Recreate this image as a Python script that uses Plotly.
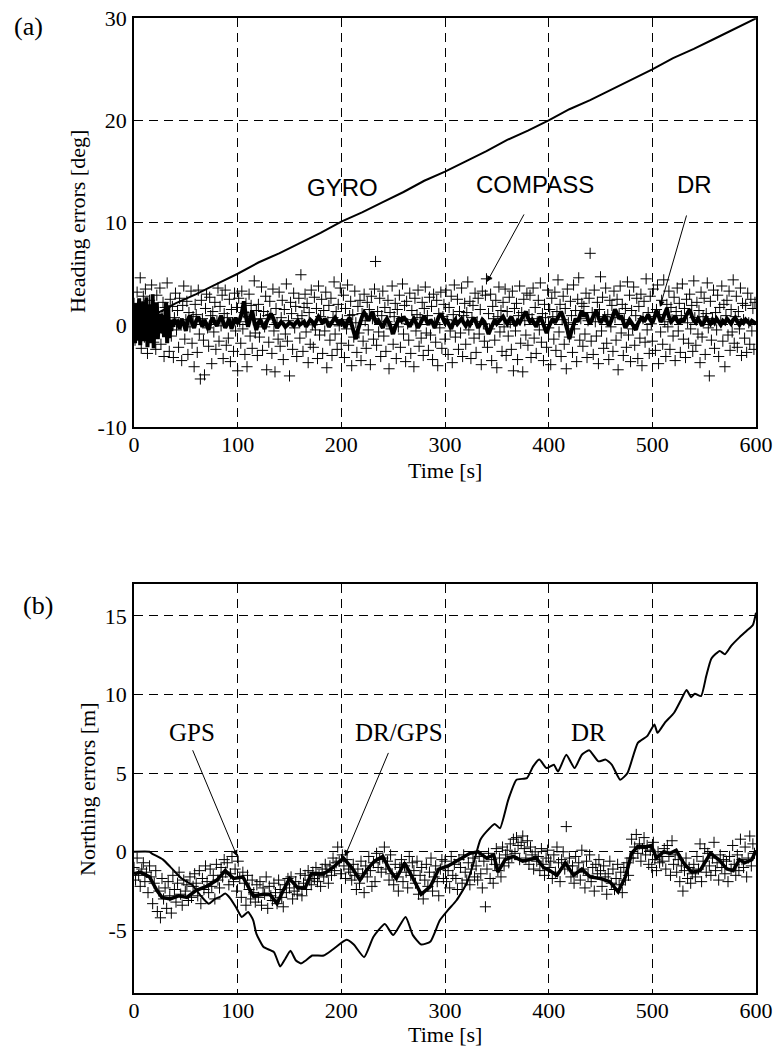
import plotly.graph_objects as go

# ---------------- data: (a) heading errors ----------------
compass_t = list(range(0, 600))
compass_heading = [
    2.1,-1.5,0.8,3.2,-0.6,1.9,4.6,-2.3,0.4,2.8,-1.2,3.5,1.1,-2.8,0.2,2.4,-0.9,3.9,1.5,-1.7,
    0.6,-2.4,2.9,1.3,-0.4,3.6,-1.9,0.9,2.2,-3.1,1.7,-0.8,4.1,0.3,-2.6,2.5,-1.1,1.8,-3.2,0.7,
    3.1,-0.5,1.4,-2.2,2.6,0.1,-3.5,1.9,3.8,-1.4,0.5,2.3,-2.9,1.2,-0.2,3.3,-1.8,0.8,-4.1,2.0,
    1.0,-2.7,3.4,-0.9,-5.3,2.4,0.6,-1.5,-4.9,1.6,3.0,-0.3,-2.1,2.7,0.9,-3.8,1.3,-0.7,2.2,-2.4,
    0.4,3.6,-1.6,1.8,-0.1,2.9,-3.3,1.1,3.4,-2.0,0.7,-1.3,2.5,-3.6,1.5,0.2,-2.6,3.1,-0.6,1.7,
    -4.5,2.6,0.3,-1.8,3.3,-0.4,1.2,-2.9,2.1,-4.1,0.8,3.0,-1.1,1.9,-2.3,0.5,4.3,-0.8,1.4,-3.0,
    2.0,-1.2,0.6,3.7,-2.5,1.3,-0.2,2.8,-4.4,0.9,-1.7,2.3,1.0,-2.8,3.5,-0.6,-4.6,1.6,0.2,-1.4,
    3.2,-2.1,0.7,2.4,-3.4,1.5,-0.9,4.0,-1.6,0.4,-5.0,2.2,1.1,-2.4,3.1,-0.3,1.8,-3.1,0.6,2.6,
    -1.3,4.9,0.9,-2.6,1.7,3.0,-0.7,2.1,-3.7,1.2,-1.9,3.4,0.0,-2.2,2.7,-0.5,1.6,-3.3,3.8,-1.0,
    0.8,2.5,-2.8,1.4,-0.6,3.2,-4.2,0.3,1.9,-1.5,2.6,-3.0,0.7,4.2,-0.9,1.3,-2.4,2.0,-0.1,3.6,
    -1.8,0.5,2.9,-3.2,1.6,-0.4,3.9,-2.0,0.9,2.3,-4.0,1.0,-1.2,3.3,0.2,-2.7,1.8,-0.8,2.4,-3.5,
    1.1,-1.6,3.0,0.4,-2.3,2.2,-0.5,1.5,-3.9,2.8,0.6,-1.4,3.5,6.2,-2.0,1.3,-0.7,2.6,-3.1,0.9,
    3.3,-1.1,1.7,-2.6,0.3,2.4,-4.3,1.2,-0.4,3.8,-1.9,0.8,2.1,-3.3,1.5,-0.2,2.9,-2.2,0.6,4.0,
    -0.9,1.9,-3.6,2.3,0.1,-1.5,3.1,-2.8,1.4,0.5,-4.1,2.6,-0.6,1.0,3.4,-2.1,0.7,-1.3,2.2,-3.0,
    1.6,3.7,-0.8,0.9,-2.5,2.7,-1.0,1.8,-3.4,3.0,0.2,-1.7,2.4,-4.0,1.1,-0.3,3.2,-2.3,0.8,2.0,
    -1.4,3.4,0.5,-2.9,1.7,-0.6,2.8,-3.7,1.0,3.9,-1.2,0.4,2.5,-2.4,1.3,-0.8,3.6,-3.1,0.9,2.1,
    -1.9,1.2,4.2,-0.5,2.3,-3.3,0.7,1.9,-1.3,3.1,-2.7,0.3,2.6,-0.9,1.5,-3.9,3.3,0.1,-1.6,2.9,
    4.5,-2.2,1.1,-0.4,3.0,-3.5,1.8,0.6,-1.5,2.4,-4.2,0.8,3.7,-0.7,1.4,-2.6,2.2,-0.2,3.5,-3.0,
    1.3,-1.1,2.7,0.2,-2.4,3.3,-4.5,1.6,-0.6,2.1,-3.4,0.9,3.8,-1.8,1.2,-4.6,2.5,0.4,-1.0,3.1,
    -2.0,1.0,2.9,-3.2,0.6,3.6,-1.3,1.7,-2.8,0.3,2.4,-0.5,4.1,-1.7,1.1,-3.5,2.0,0.7,-2.2,3.4,
    -0.3,1.5,-3.9,2.6,0.8,-1.4,3.2,-2.5,1.3,4.4,-0.7,2.0,-3.1,0.5,2.8,-1.9,1.6,-4.3,3.5,0.2,
    -1.2,2.3,0.9,-2.7,3.9,-0.4,1.4,-3.6,2.5,4.6,-1.5,0.6,2.1,-2.1,1.8,-0.9,3.1,-3.2,0.4,2.6,
    7.0,-1.6,1.2,-2.9,3.4,0.3,-1.1,2.2,-3.8,1.5,4.7,-0.6,2.7,-2.3,0.8,3.6,-1.8,1.0,-3.4,2.4,
    -0.2,1.9,-2.6,3.3,0.7,-1.5,2.5,-4.4,1.1,3.8,-0.8,2.0,-3.0,0.5,1.6,-2.2,4.2,-1.0,2.9,-3.6,
    1.4,-0.4,3.7,-2.0,0.9,2.6,-3.3,1.8,-1.3,3.0,-4.0,0.6,2.3,-1.7,4.5,-0.5,1.2,-2.8,2.8,0.1,
    -1.6,3.5,0.8,-2.5,1.5,3.9,-3.8,1.0,-0.7,2.4,-1.9,4.4,0.3,-3.1,2.0,-0.2,3.3,-2.4,1.7,0.5,
    -1.1,2.7,-3.5,1.3,3.6,-0.6,2.1,-2.7,0.9,4.0,-1.4,1.6,-3.2,2.5,0.2,-1.8,3.0,-0.4,1.9,-2.6,
    4.3,0.7,-2.0,2.2,-0.9,1.4,-3.7,3.2,-1.2,0.8,2.6,-2.9,1.1,4.1,-0.3,-5.0,2.3,-1.5,0.6,3.4,
    -2.3,1.2,-0.5,2.9,-3.1,1.7,0.3,3.8,-1.6,2.0,-4.1,0.9,2.4,-1.0,3.3,-2.5,1.5,-0.7,4.4,-1.8,
    0.8,2.8,-2.2,1.3,-0.4,3.6,-3.0,2.1,0.5,-1.3,1.9,-2.7,3.1,0.2,-1.9,2.5,-0.6,1.6,-2.4,2.2,
]

gyro_t = list(range(0, 601, 20))
gyro_heading = [0.1,1.0,2.1,3.0,4.0,5.0,6.1,7.0,8.0,9.0,10.1,11.0,12.0,13.0,14.1,15.0,
                16.0,17.0,18.1,19.0,20.0,21.1,22.0,23.0,24.0,25.0,26.1,27.0,28.0,29.0,30.0]

dr_heading_t = list(range(0, 41)) + list(range(42, 601, 2))
dr_heading = [
    1.2,-1.8,2.1,-1.5,0.4,2.6,-2.0,1.0,-1.2,2.3,-1.6,0.8,2.7,-2.2,1.3,-0.9,2.0,-1.8,3.0,-2.3,
    1.6,-1.0,2.2,-1.4,0.6,-0.8,1.1,-0.5,0.9,-1.2,0.7,2.2,-1.8,1.9,-1.3,0.5,-0.6,0.4,-0.2,0.6,0.1,
    0.3,-0.4,0.6,0.1,-0.6,0.5,0.9,0.2,-0.3,0.4,0.8,0.3,-0.2,0.5,0.0,-0.5,0.3,0.7,0.2,-0.1,
    0.4,0.9,0.3,-0.3,0.1,0.6,-0.4,0.2,0.7,0.1,0.5,1.2,2.3,0.8,-0.2,0.6,1.4,0.3,-0.5,0.2,
    0.5,0.0,-0.4,0.3,0.8,1.1,0.7,0.2,-0.3,0.0,0.3,0.1,-0.2,0.0,0.2,0.1,-0.1,0.2,0.4,0.0,
    0.1,0.3,-0.2,0.2,0.5,0.3,0.0,0.4,0.8,0.5,0.1,0.6,0.3,-0.2,0.2,0.4,0.7,0.3,0.0,0.5,
    0.2,-0.3,0.4,0.7,0.1,-0.6,-1.4,-0.5,0.3,0.8,1.2,0.9,0.4,1.0,1.3,0.6,0.1,0.4,0.0,-0.3,
    0.3,0.6,0.2,-0.4,-0.9,-0.2,0.4,0.7,0.3,0.8,0.5,0.1,-0.2,0.3,0.6,0.2,-0.3,0.1,0.5,0.9,
    0.4,0.0,0.5,0.2,-0.3,0.3,0.8,1.1,0.6,0.2,0.4,0.0,-0.4,0.2,0.5,0.1,0.3,0.6,0.2,-0.1,
    0.3,0.0,0.4,0.7,0.2,-0.3,0.1,0.5,0.3,-0.2,-0.9,-0.4,0.2,0.5,0.1,0.3,0.6,0.8,0.4,0.1,
    0.5,0.8,0.3,-0.1,0.4,0.2,0.6,1.0,1.3,0.7,0.3,0.5,0.1,-0.2,0.4,0.8,0.3,-0.4,-0.8,-0.2,
    0.3,0.6,0.2,0.5,0.9,1.3,0.8,0.2,-0.5,-1.4,-0.6,0.2,0.6,0.3,0.9,1.4,0.8,1.2,0.5,0.1,
    0.6,1.0,1.4,0.7,0.2,0.5,0.9,0.4,-0.1,0.3,0.8,1.5,1.1,0.6,0.9,0.2,-0.3,0.1,0.5,0.2,
    -0.2,-0.5,0.1,0.4,0.8,0.3,0.6,1.0,0.5,0.2,0.7,1.4,0.9,0.3,0.6,1.1,1.6,0.8,0.3,0.5,
    0.9,0.4,0.1,0.6,0.3,0.8,1.2,1.5,0.9,0.4,0.2,0.6,0.3,-0.1,0.3,0.7,0.4,0.1,0.5,0.2,
    0.6,0.3,0.0,0.4,0.2,0.6,0.3,0.1,0.5,0.7,0.3,0.0,0.4,0.2,0.5,0.3,0.1,0.4,0.2,0.1,
]

# ---------------- data: (b) northing errors ----------------
gps_t = [i * 1.5 for i in range(400)]
gps_northing = [
    -1.0,-1.8,-0.4,-1.5,-2.2,-1.1,-0.7,-1.9,-1.3,-2.6,-0.9,-1.6,-3.3,-2.0,-1.2,-3.8,-2.5,-4.2,-1.7,-3.0,
    -2.3,-3.6,-1.9,-2.8,-3.9,-1.5,-2.4,-3.2,-2.0,-1.3,-2.7,-3.4,-1.8,-2.5,-2.1,-3.1,-1.6,-2.9,-2.2,-1.4,
    -2.0,-2.8,-1.2,-3.3,-1.7,-2.4,-0.9,-1.9,-2.6,-1.1,-2.2,-1.5,-3.0,-0.8,-1.8,-2.3,-1.0,-1.6,-0.5,-1.3,
    -0.7,-2.1,-1.4,-0.3,-1.9,-1.1,-2.5,-0.6,-1.7,-2.9,-1.3,-2.0,-3.4,-1.5,-2.4,-3.0,-1.8,-2.6,-3.2,-2.1,
    -2.9,-1.9,-3.4,-2.3,-2.7,-1.6,-3.6,-2.2,-2.8,-3.1,-2.0,-2.6,-3.3,-1.8,-2.4,-2.9,-3.5,-2.1,-2.6,-1.7,
    -2.3,-1.6,-3.0,-2.5,-1.9,-2.7,-2.2,-1.4,-2.8,-2.0,-1.5,-2.4,-1.2,-1.8,-2.1,-1.3,-1.7,-1.0,-1.9,-1.5,
    -2.2,-1.1,-1.6,-0.8,-1.3,-2.0,-0.9,-1.5,-0.4,-1.2,-0.7,0.3,-0.6,-1.4,-0.2,-0.9,-1.7,-0.5,-1.1,-1.3,
    -1.8,-0.8,-1.5,-2.4,-1.1,-2.0,-0.6,-1.4,-2.6,-0.9,-1.6,-0.3,-1.2,-2.2,-0.7,-1.9,-0.1,-1.0,-0.5,-1.3,
    -0.4,0.3,-1.1,-0.6,-1.8,-0.2,-1.4,-2.1,-0.8,-1.6,-2.5,-1.0,-0.5,-1.9,-0.9,-1.3,-2.3,-0.3,-1.5,-0.7,
    -1.2,-2.0,-0.6,-2.7,-1.5,-1.0,-3.0,-1.8,-0.8,-2.2,-1.3,-0.4,-2.5,-1.6,-0.9,-1.9,-2.8,-1.1,-0.5,-1.7,
    -0.6,-1.9,-1.2,-2.3,-0.3,-1.5,-0.8,-1.7,-2.4,-0.5,-1.0,-2.0,-0.2,-1.3,-1.8,-0.7,-2.1,-1.1,-0.4,-1.6,
    -0.9,-1.8,-0.3,-1.4,-2.3,-0.6,-3.5,-1.1,-0.1,-1.7,-0.5,-2.0,-0.8,0.2,-1.2,-0.4,-1.6,0.3,-0.9,-0.2,
    0.1,-0.7,0.5,-0.3,0.8,-0.1,0.9,0.4,-0.5,0.6,1.0,0.2,-0.4,0.7,-0.8,0.3,-0.2,-1.1,0.0,-0.6,
    -0.3,-1.2,0.2,-0.8,-1.5,-0.4,0.1,-1.0,-0.6,-1.7,-0.2,-1.3,0.3,-0.7,-1.9,-0.5,0.0,-1.1,1.6,-0.9,
    -0.4,-1.6,-0.9,-2.0,-0.3,-1.3,-0.7,-1.8,0.1,-1.1,-2.3,-0.6,-1.5,-0.2,-1.9,-1.0,-2.5,-0.8,-1.4,-0.5,
    -1.2,-2.2,-0.9,-1.6,-2.7,-1.4,-0.6,-2.0,-1.1,-2.4,-1.7,-0.8,-2.1,-1.3,-2.6,-1.0,-1.8,-0.7,-1.5,-0.4,
    0.8,-0.4,0.3,1.1,-0.1,0.5,-0.6,0.2,0.9,-0.2,0.4,-0.8,0.1,-1.0,0.6,-0.5,-1.2,0.0,-0.7,-0.3,
    -0.6,0.2,-1.1,0.4,-0.3,-1.5,0.7,-0.8,-0.2,-1.3,-0.5,-1.9,-0.9,-2.5,-1.2,-0.4,-1.7,-1.0,-2.0,-1.4,
    -0.8,-1.6,-0.3,-1.1,0.5,-1.9,-0.6,0.2,-1.3,-0.1,-0.9,-1.5,-0.4,0.6,-1.2,-0.7,-1.8,-0.2,-1.0,-0.5,
    -1.4,-0.6,-1.9,-0.3,-1.1,0.4,-0.8,-1.5,-0.2,-1.2,0.8,-0.5,-1.0,0.3,-1.6,-0.4,1.0,-0.9,0.5,-0.1,
]

drgps_t = [0,6,15,22,27,35,43,51,60,70,80,88,96,105,115,125,131,138,144,150,158,165,171,183,192,
           202,210,218,224,232,240,247,253,261,270,277,286,294,303,314,324,332,340,347,351,358,
           366,375,388,395,401,408,416,424,432,440,450,459,467,474,480,486,493,499,504,511,517,
           523,530,538,546,556,564,572,578,584,589,596,600]
drgps_northing = [-1.4,-1.3,-1.6,-2.45,-2.9,-3.0,-2.8,-2.9,-2.45,-2.2,-1.8,-1.2,-1.7,-1.6,-2.8,
                  -2.7,-2.7,-3.3,-2.45,-1.7,-2.3,-2.3,-1.4,-1.4,-1.0,-0.4,-1.0,-1.8,-1.2,-0.6,
                  -0.3,-1.2,-1.7,-0.7,-1.8,-2.7,-2.2,-1.1,-0.9,-0.5,-0.1,0.0,-0.4,-0.2,-1.3,-0.5,
                  -0.3,-0.6,-0.4,-1.0,-1.2,-1.5,-0.7,-1.5,-1.1,-1.6,-1.7,-1.9,-2.55,-1.6,-0.1,
                  0.35,0.3,0.4,-0.4,0.0,-0.1,0.1,-0.7,-1.3,-1.2,-0.1,-0.5,-1.1,-1.2,-0.5,-0.7,-0.5,0.1]

dr_t = [0,15,17,28,35,41,46,51,56,64,72,78.5,83,88,93,99,104,110,115,118,125,135,141,146,151,
        156,161,166,172,183,192,205,212,222,231,242,250,262,269,277,286,295,303,311,321,327.5,
        334,340,348,353,361,369,379,385,391,398,405,409,417,425,432,439,448,455,461,469,476,
        486,495,502,505,512,521,528,533,537.5,541,547,552,557,565,570,576,584,591,597,600]
dr_northing = [0.0,0.0,-0.1,-0.5,-0.96,-1.38,-1.7,-1.9,-2.1,-2.77,-3.3,-2.98,-2.87,-2.66,-2.98,
               -3.6,-4.15,-3.83,-4.36,-5.2,-6.06,-6.38,-7.3,-6.8,-6.3,-6.9,-7.1,-6.9,-6.6,-6.6,
               -6.2,-5.6,-5.9,-6.7,-5.4,-4.6,-5.3,-4.15,-5.3,-5.9,-5.7,-4.36,-3.7,-3.1,-2.0,-0.74,
               0.75,1.28,1.77,1.49,3.3,4.58,4.68,5.43,5.86,5.32,5.53,5.1,6.17,5.32,6.17,6.45,5.75,
               5.86,5.53,4.58,5.0,6.92,7.35,8.09,7.56,8.2,8.84,9.7,10.28,9.83,10.05,9.9,11.17,12.29,
               12.77,12.56,13.09,13.63,14.05,14.42,15.2]

x_ticks = [0, 100, 200, 300, 400, 500, 600]
ya_ticks = [-10, 0, 10, 20, 30]
yb_ticks = [-5, 0, 5, 10, 15]

# ---------------- figure ----------------
W, H = 777, 1052
def pxx(x): return x / W
def pxy(y): return 1 - y / H

SERIF = "Liberation Serif"
SANS = "Liberation Sans"
cross = dict(symbol="cross-thin", size=8, line=dict(width=1, color="black"), color="black")

fig = go.Figure()
fig.add_trace(go.Scatter(x=compass_t, y=compass_heading, mode="markers", marker=cross,
                         xaxis="x", yaxis="y", showlegend=False))
fig.add_trace(go.Scatter(x=gyro_t, y=gyro_heading, mode="lines", line=dict(color="black", width=2),
                         xaxis="x", yaxis="y", showlegend=False))
fig.add_trace(go.Scatter(x=dr_heading_t, y=dr_heading, mode="lines", line=dict(color="black", width=4),
                         xaxis="x", yaxis="y", showlegend=False))

fig.add_trace(go.Scatter(x=gps_t, y=gps_northing, mode="markers", marker=cross,
                         xaxis="x2", yaxis="y2", showlegend=False))
fig.add_trace(go.Scatter(x=dr_t, y=dr_northing, mode="lines",
                         line=dict(color="black", width=2, shape="spline", smoothing=0.5),
                         xaxis="x2", yaxis="y2", showlegend=False))
fig.add_trace(go.Scatter(x=drgps_t, y=drgps_northing, mode="lines", line=dict(color="black", width=3.5),
                         xaxis="x2", yaxis="y2", showlegend=False))

def xax(anchor):
    return dict(domain=[pxx(134), pxx(756)], anchor=anchor, range=[0, 600], automargin=False,
                tickvals=x_ticks, ticktext=[str(v) for v in x_ticks],
                showgrid=True, gridcolor="black", gridwidth=1, griddash="9px,6px",
                showline=True, linecolor="black", linewidth=1.5, mirror="ticks",
                ticks="inside", ticklen=5, tickcolor="black", zeroline=False,
                tickfont=dict(family=SERIF, size=22, color="black"), ticklabelstandoff=-3)

def yax(anchor, dom, rng, tv):
    return dict(domain=dom, anchor=anchor, range=rng, automargin=False,
                tickvals=tv, ticktext=[str(v) for v in tv],
                showgrid=True, gridcolor="black", gridwidth=1, griddash="9px,6px",
                showline=True, linecolor="black", linewidth=1.5, mirror="ticks",
                ticks="inside", ticklen=5, tickcolor="black", zeroline=False,
                tickfont=dict(family=SERIF, size=22, color="black"), ticklabelstandoff=1)

fig.update_layout(
    template="none",
    width=W, height=H, margin=dict(l=0, r=0, t=0, b=0, pad=0, autoexpand=False),
    paper_bgcolor="white", plot_bgcolor="white", showlegend=False,
    xaxis=xax("y"),
    yaxis=yax("x", [pxy(427), pxy(18.3)], [-10, 30], ya_ticks),
    xaxis2=xax("y2"),
    yaxis2=yax("x2", [pxy(993.3), pxy(584.4)], [-9, 17], yb_ticks),
)

def txt(text, x, y, size, family=SERIF, angle=0):
    fig.add_annotation(text=text, x=pxx(x), y=pxy(y), xref="paper", yref="paper",
                       showarrow=False, textangle=angle, xanchor="center", yanchor="middle",
                       font=dict(family=family, size=size, color="black"))

txt("(a)", 28, 27, 26)
txt("(b)", 38, 605, 26)
txt("Heading errors [deg]", 78, 222, 22, angle=-90)
txt("Time [s]", 445, 470, 22)
txt("Northing errors [m]", 87, 789, 22, angle=-90)
txt("Time [s]", 445, 1034, 22)
txt("GYRO", 342, 188, 24, SANS)
txt("COMPASS", 535, 185, 24, SANS)
txt("DR", 694, 185, 24, SANS)
txt("GPS", 192, 732, 25)
txt("DR/GPS", 399, 732, 25)
txt("DR", 588, 732, 25)

def arrow(xr, yr, head, tail):
    fig.add_annotation(x=head[0], y=head[1], ax=tail[0], ay=tail[1], xref=xr, yref=yr,
                       axref=xr, ayref=yr, text="", showarrow=True, arrowhead=2,
                       arrowsize=1.2, arrowwidth=1, arrowcolor="black")

arrow("x", "y", (340.5, 4.2), (377, 10.95))
arrow("x", "y", (507.4, 1.75), (533.4, 10.85))
arrow("x2", "y2", (99.4, -0.28), (56, 6.55))
arrow("x2", "y2", (203.5, -0.28), (246, 6.38))

fig.write_html("out.html", config={"displayModeBar": False},
               post_script="document.body.style.margin='0';document.body.style.padding='0';")
